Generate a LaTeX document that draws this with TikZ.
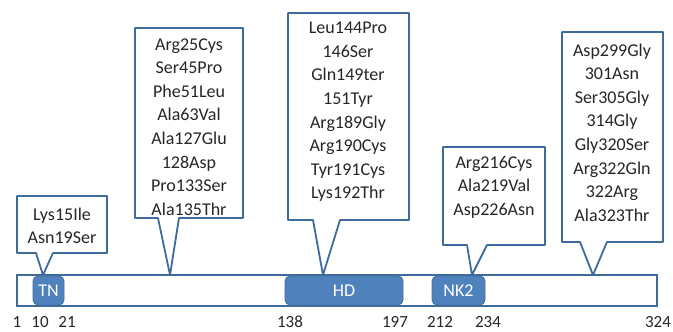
\documentclass[tikz,border=0pt]{standalone}
\usepackage{fontspec}
\setmainfont{Carlito}
\definecolor{lineblue}{HTML}{3E6A9C}
\definecolor{domfill}{HTML}{4F81BD}
\definecolor{domline}{HTML}{41719C}
\definecolor{ink}{HTML}{262626}
% outline of a mutation callout: box plus pointer down to the bar
% #1 box node, #2/#3 pointer base offsets from its south west corner, #4 tip coordinate
\newcommand\mutframe[4]{%
  \draw[callline] ([xshift=#2]#1.south west) -- (#1.south west) -- (#1.north west)
    -- (#1.north east) -- (#1.south east) -- ([xshift=#3]#1.south west) -- (#4) -- cycle;}
\begin{document}
\begin{tikzpicture}[x=1pt,y=1pt,
  protein/.style={draw=lineblue, line width=1.8pt, fill=white, minimum width=640pt,
    minimum height=31pt, inner sep=0pt, outer sep=0pt},
  domainbox/.style={draw=domline, line width=0.8pt, fill=domfill, rounded corners=5pt,
    minimum height=29pt, inner sep=0pt, outer sep=0pt, text=white,
    font=\fontsize{18}{22}\selectfont},
  boxframe/.style={draw=none, inner sep=0pt, outer sep=0pt},
  callline/.style={draw=lineblue, line width=1.8pt, line join=round},
  muts/.style={align=center, text=ink, inner sep=0pt, font=\fontsize{18}{23.6}\selectfont},
  poslabel/.style={text=ink, inner sep=0pt, font=\fontsize{17}{20}\selectfont}]
\useasboundingbox (0,0) rectangle (673,-332);

% protein bar and its domains
\node[protein] (bar) at (337,-290.5) {};
\node[domainbox, minimum width=31pt] (tn) at (48.5,-290.5) {TN};
\node[domainbox, minimum width=118pt] (hd) at (344,-290.5) {HD};
\node[domainbox, minimum width=53pt] (nk2) at (458.5,-290.5) {NK2};

% residue positions
\node[poslabel] (n1) at (17,-322) {1};
\node[poslabel] (n10) at (40,-322) {10};
\node[poslabel] (n21) at (67,-322) {21};
\node[poslabel] (n138) at (290,-322) {138};
\node[poslabel] (n197) at (395,-322) {197};
\node[poslabel] (n212) at (440,-322) {212};
\node[poslabel] (n234) at (488,-322) {234};
\node[poslabel] (n324) at (658,-322) {324};

% pointer tips on the top edge of the bar
\coordinate (tip1) at ([xshift=26pt]bar.north west);
\coordinate (tip2) at ([xshift=153pt]bar.north west);
\coordinate (tip3) at ([xshift=306pt]bar.north west);
\coordinate (tip4) at ([xshift=455pt]bar.north west);
\coordinate (tip5) at ([xshift=576pt]bar.north west);

% callout boxes
\node[boxframe, minimum width=90pt, minimum height=57pt] (b1) at (62,-224.5) {};
\node[boxframe, minimum width=108pt, minimum height=190pt] (b2) at (189,-123) {};
\node[boxframe, minimum width=121pt, minimum height=207pt] (b3) at (348.5,-116.5) {};
\node[boxframe, minimum width=102pt, minimum height=98pt] (b4) at (494,-196) {};
\node[boxframe, minimum width=101pt, minimum height=210pt] (b5) at (612.5,-137) {};

\mutframe{b1}{19pt}{36pt}{tip1}
\mutframe{b2}{23pt}{44pt}{tip2}
\mutframe{b3}{25pt}{52pt}{tip3}
\mutframe{b4}{24pt}{44pt}{tip4}
\mutframe{b5}{18pt}{45pt}{tip5}

% mutation lists
\node[muts] (t1) at (62,-226) {Lys15Ile\\Asn19Ser};
\node[muts] (t2) at (189,-127) {Arg25Cys\\Ser45Pro\\Phe51Leu\\Ala63Val\\Ala127Glu\\128Asp\\Pro133Ser\\Ala135Thr};
\node[muts] (t3) at (348,-112) {Leu144Pro\\146Ser\\Gln149ter\\151Tyr\\Arg189Gly\\Arg190Cys\\Tyr191Cys\\Lys192Thr};
\node[muts] (t4) at (494,-187) {Arg216Cys\\Ala219Val\\Asp226Asn};
\node[muts] (t5) at (612,-132.5) {Asp299Gly\\301Asn\\Ser305Gly\\314Gly\\Gly320Ser\\Arg322Gln\\322Arg\\Ala323Thr};
\end{tikzpicture}
\end{document}
